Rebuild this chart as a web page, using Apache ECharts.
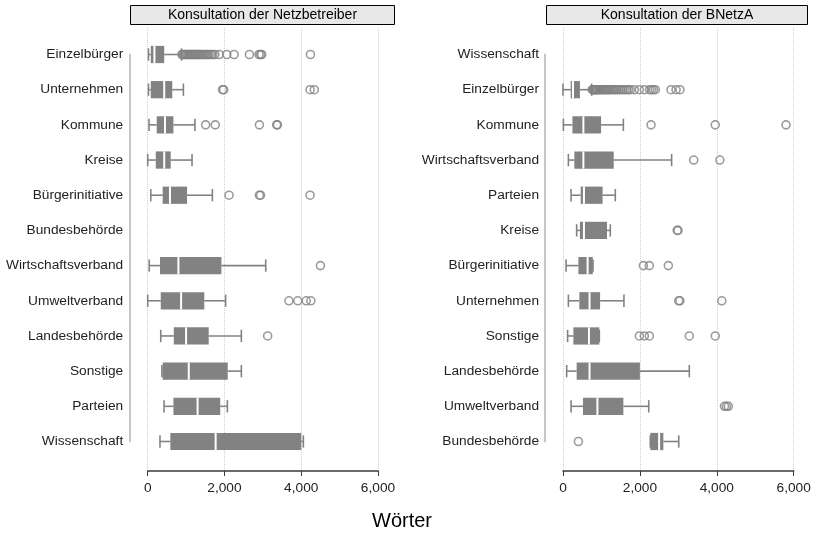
<!DOCTYPE html>
<html><head><meta charset="utf-8">
<script src="https://cdn.jsdelivr.net/npm/echarts@6/dist/echarts.min.js"></script>
<style>html,body{margin:0;padding:0;background:#fff}#c{width:815px;height:533px}</style>
</head><body><div id="c"></div>
<script>
// ---------- data ----------
const panelTitles = ['Konsultation der Netzbetreiber', 'Konsultation der BNetzA'];
const xTicks = [0, 2000, 4000, 6000];
const xLabel = 'Wörter';

const leftCategories = ['Einzelbürger','Unternehmen','Kommune','Kreise','Bürgerinitiative','Bundesbehörde','Wirtschaftsverband','Umweltverband','Landesbehörde','Sonstige','Parteien','Wissenschaft'];
const leftLow    = [20, 20, 35, 0, 80, null, 40, 0, 340, 370, 425, 320];
const leftQ1     = [80, 80, 235, 210, 390, null, 320, 340, 680, 390, 670, 590];
const leftMedian = [175, 430, 450, 430, 580, null, 800, 870, 1000, 1070, 1300, 1770];
const leftQ3     = [430, 640, 670, 600, 1025, null, 1920, 1475, 1590, 2085, 1890, 4000];
const leftHigh   = [880, 930, 1230, 1155, 1685, null, 3075, 2030, 2440, 2440, 2075, 4055];
const leftOutliers = [
  [890, 920, 950, 980, 1010, 1040, 1070, 1100, 1130, 1160, 1190, 1220, 1250, 1280, 1310, 1340, 1370, 1400, 1440, 1480, 1520, 1560, 1600, 1650, 1700, 1750, 1860, 2060, 2250, 2650, 2900, 2940, 2970, 4240],
  [1950, 1980, 4230, 4340],
  [1510, 1760, 2910, 3360, 3380],
  [],
  [2120, 2910, 2940, 4230],
  [],
  [4500],
  [3680, 3910, 4130, 4250],
  [3125],
  [],
  [],
  []
];

const rightCategories = ['Wissenschaft','Einzelbürger','Kommune','Wirtschaftsverband','Parteien','Kreise','Bürgerinitiative','Unternehmen','Sonstige','Landesbehörde','Umweltverband','Bundesbehörde'];
const rightLow    = [null, 0, 10, 140, 210, 355, 80, 140, 120, 95, 210, 2270];
const rightQ1     = [null, 200, 245, 295, 460, 440, 400, 425, 270, 355, 520, 2270];
const rightMedian = [null, 260, 530, 530, 545, 545, 640, 690, 675, 690, 895, 2500];
const rightQ3     = [null, 440, 990, 1320, 1030, 1145, 775, 965, 945, 2000, 1570, 2610];
const rightHigh   = [null, 745, 1570, 2825, 1360, 1230, 780, 1585, 945, 3285, 2230, 3010];
const rightOutliers = [
  [],
  [760, 780, 800, 820, 840, 860, 880, 900, 930, 960, 990, 1020, 1050, 1080, 1110, 1140, 1170, 1200, 1240, 1280, 1320, 1360, 1400, 1450, 1500, 1550, 1600, 1650, 1700, 1750, 1855, 1985, 2115, 2250, 2300, 2350, 2400, 2810, 2940, 3040],
  [2290, 3960, 5800],
  [3400, 4080],
  [],
  [2970, 2990],
  [2090, 2245, 2740],
  [3010, 3040, 4130],
  [1985, 2115, 2245, 3285, 3960],
  [],
  [4200, 4250, 4300],
  [400]
];

// ---------- build ----------
const GRAY = '#828282';
const FONT = 'Liberation Sans, Arial, sans-serif';
const FS = 13.7;

function boxData(low, q1, med, q3, high) {
  const out = [];
  for (let i = 0; i < low.length; i++) {
    if (low[i] == null) continue;
    out.push([low[i], q1[i], med[i], q3[i], high[i], i]);
  }
  return out;
}
function outlierData(list) {
  const out = [];
  list.forEach((vals, i) => vals.forEach(v => out.push([v, i])));
  return out;
}
function renderBox(params, api) {
  const cat = api.value(5);
  const band = api.size([0, 1])[1];
  const bh = band * 0.49, ch = band * 0.35;
  const pLo = api.coord([api.value(0), cat]);
  const pQ1 = api.coord([api.value(1), cat]);
  const pMd = api.coord([api.value(2), cat]);
  const pQ3 = api.coord([api.value(3), cat]);
  const pHi = api.coord([api.value(4), cat]);
  const y = pMd[1];
  const ls = {stroke: GRAY, lineWidth: 1.6};
  return {
    type: 'group',
    children: [
      {type: 'line', shape: {x1: pLo[0], y1: y, x2: pQ1[0], y2: y}, style: ls},
      {type: 'line', shape: {x1: pQ3[0], y1: y, x2: pHi[0], y2: y}, style: ls},
      {type: 'line', shape: {x1: pLo[0], y1: y - ch / 2, x2: pLo[0], y2: y + ch / 2}, style: ls},
      {type: 'line', shape: {x1: pHi[0], y1: y - ch / 2, x2: pHi[0], y2: y + ch / 2}, style: ls},
      {type: 'rect', shape: {x: pQ1[0], y: y - bh / 2, width: Math.max(pQ3[0] - pQ1[0], 1), height: bh}, style: {fill: GRAY, stroke: null}},
      {type: 'line', shape: {x1: pMd[0], y1: y - bh / 2, x2: pMd[0], y2: y + bh / 2}, style: {stroke: '#fff', lineWidth: 2}}
    ]
  };
}

const panels = [
  {left: 147.7, right: 437, cats: leftCategories, box: boxData(leftLow, leftQ1, leftMedian, leftQ3, leftHigh), out: outlierData(leftOutliers), offset: 17.5, margin: 7},
  {left: 563, right: 21.3, cats: rightCategories, box: boxData(rightLow, rightQ1, rightMedian, rightQ3, rightHigh), out: outlierData(rightOutliers), offset: 18, margin: 6}
];

const grid = [], xAxis = [], yAxis = [], series = [];
panels.forEach((p, k) => {
  const gBg = grid.length;
  grid.push({left: p.left, right: p.right, top: 28, bottom: 62});
  grid.push({left: p.left, right: p.right, top: 54.5, bottom: 91.5});
  xAxis.push({
    type: 'value', gridIndex: gBg, min: xTicks[0], max: xTicks[xTicks.length - 1], interval: xTicks[1] - xTicks[0],
    axisLine: {show: true, onZero: false, lineStyle: {color: '#3a3a3a', width: 1.5}},
    axisTick: {show: true, length: 5, lineStyle: {color: '#3a3a3a', width: 1}},
    axisLabel: {margin: 10, color: '#222', fontSize: FS, fontFamily: FONT, formatter: v => v.toLocaleString('en-US')},
    splitLine: {show: true, lineStyle: {color: '#cfcfcf', type: 'dotted', width: 1}}
  });
  yAxis.push({type: 'value', gridIndex: gBg, show: false, min: 0, max: 1});
  xAxis.push({type: 'value', gridIndex: gBg + 1, show: false, min: xTicks[0], max: xTicks[xTicks.length - 1], splitLine: {show: false}});
  yAxis.push({
    type: 'category', gridIndex: gBg + 1, data: p.cats, inverse: true, boundaryGap: false, offset: p.offset,
    axisLine: {show: true, onZero: false, lineStyle: {color: '#c6c6c6', width: 2}},
    axisTick: {show: false},
    axisLabel: {margin: p.margin, color: '#222', fontSize: FS, fontFamily: FONT},
    splitLine: {show: false}
  });
  series.push({
    type: 'custom', xAxisIndex: gBg + 1, yAxisIndex: gBg + 1, data: p.box,
    encode: {x: [0, 1, 2, 3, 4], y: 5}, renderItem: renderBox, silent: true, z: 2
  });
  series.push({
    type: 'scatter', xAxisIndex: gBg + 1, yAxisIndex: gBg + 1, data: p.out, symbol: 'circle', symbolSize: 8,
    itemStyle: {color: 'rgba(0,0,0,0)', borderColor: GRAY, borderWidth: 1.6}, silent: true, z: 3
  });
});

const chart = echarts.init(document.getElementById('c'), null, {renderer: 'canvas'});
chart.setOption({
  animation: false,
  backgroundColor: '#fff',
  grid, xAxis, yAxis, series,
  graphic: [
    {type: 'rect', shape: {x: 130.5, y: 5.5, width: 264, height: 19}, style: {fill: '#e8e8e8', stroke: '#000', lineWidth: 1}},
    {type: 'text', x: 262.5, y: 15, style: {text: panelTitles[0], fill: '#000', font: '14px ' + FONT, textAlign: 'center', textVerticalAlign: 'middle'}},
    {type: 'rect', shape: {x: 546.5, y: 5.5, width: 261, height: 19}, style: {fill: '#e8e8e8', stroke: '#000', lineWidth: 1}},
    {type: 'text', x: 677, y: 15, style: {text: panelTitles[1], fill: '#000', font: '14px ' + FONT, textAlign: 'center', textVerticalAlign: 'middle'}},
    {type: 'text', x: 402, y: 521, style: {text: xLabel, fill: '#000', font: '20px ' + FONT, textAlign: 'center', textVerticalAlign: 'middle'}}
  ]
});
</script>
</body></html>
